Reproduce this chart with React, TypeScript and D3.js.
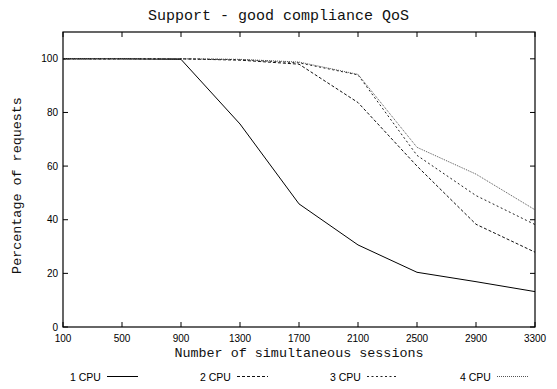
import React from "react";
import * as d3 from "d3";

const sessions = [100, 500, 900, 1300, 1700, 2100, 2500, 2900, 3300];
const cpu1 = [100, 100, 99.8, 75.7, 45.9, 30.6, 20.4, 16.9, 13.2];
const cpu2 = [100, 100, 100, 99.5, 98, 83.7, 60, 38.3, 27.9];
const cpu3 = [100, 100, 100, 99.7, 98.5, 94, 64, 49, 38.2];
const cpu4 = [100, 100, 100, 99.8, 98.8, 94.2, 67, 57, 43.7];
const seriesNames = ["1 CPU", "2 CPU", "3 CPU", "4 CPU"];
const yTicks = [0, 20, 40, 60, 80, 100];

const W = 557, H = 389;
const m = { left: 63, right: 22, top: 32, bottom: 62 };

export default function App() {
  const x = d3.scaleLinear().domain([100, 3300]).range([m.left, W - m.right]);
  const y = d3.scaleLinear().domain([0, 110]).range([H - m.bottom, m.top]);
  const line = d3.line<number>().x((_, i) => x(sessions[i])).y((d) => y(d));
  const series = [cpu1, cpu2, cpu3, cpu4];
  const dashes = ["none", "3,2", "2,2.5", "1,1"];
  const colors = ["#000", "#111", "#222", "#555"];
  const legendX = [70, 200, 330, 460];
  const x0 = m.left, x1 = W - m.right, y0 = H - m.bottom, y1 = m.top;
  return (
    <svg width={W} height={H} style={{ position: "absolute", left: 0, top: 0 }}>
      <rect width={W} height={H} fill="#fff" />
      <text x={W / 2} y={20} textAnchor="middle" fontFamily="Liberation Mono" fontSize={15} fill="#111">
        Support - good compliance QoS
      </text>
      {sessions.map((s) => (
        <g key={s}>
          <line x1={x(s)} x2={x(s)} y1={y0} y2={y0 - 5} stroke="#000" />
          <line x1={x(s)} x2={x(s)} y1={y1} y2={y1 + 5} stroke="#000" />
          <text x={x(s)} y={y0 + 15} textAnchor="middle" fontFamily="Liberation Sans" fontSize={10}>{s}</text>
        </g>
      ))}
      {yTicks.map((t) => (
        <g key={t}>
          <line x1={x0} x2={x0 + 5} y1={y(t)} y2={y(t)} stroke="#000" />
          <line x1={x1} x2={x1 - 5} y1={y(t)} y2={y(t)} stroke="#000" />
          <text x={x0 - 5} y={y(t) + 3.5} textAnchor="end" fontFamily="Liberation Sans" fontSize={10}>{t}</text>
        </g>
      ))}
      {series.map((s, i) => (
        <path key={i} d={line(s) || ""} fill="none" stroke={colors[i]} strokeWidth={1} strokeDasharray={dashes[i]} />
      ))}
      <rect x={x0} y={y1} width={x1 - x0} height={y0 - y1} fill="none" stroke="#000" strokeWidth={1.2} />
      <text x={(x0 + x1) / 2} y={y0 + 30} textAnchor="middle" fontFamily="Liberation Mono" fontSize={13.4} fill="#111">
        Number of simultaneous sessions
      </text>
      <text transform={`translate(21,${(y0 + y1) / 2 + 6}) rotate(-90)`} textAnchor="middle" fontFamily="Liberation Mono" fontSize={13.4} fill="#111">
        Percentage of requests
      </text>
      {seriesNames.map((n, i) => (
        <g key={n}>
          <text x={legendX[i]} y={380.5} fontFamily="Liberation Sans" fontSize={10.5}>{n}</text>
          <line x1={legendX[i] + 37} x2={legendX[i] + 68} y1={376.5} y2={376.5} stroke={colors[i]} strokeDasharray={dashes[i]} />
        </g>
      ))}
    </svg>
  );
}
